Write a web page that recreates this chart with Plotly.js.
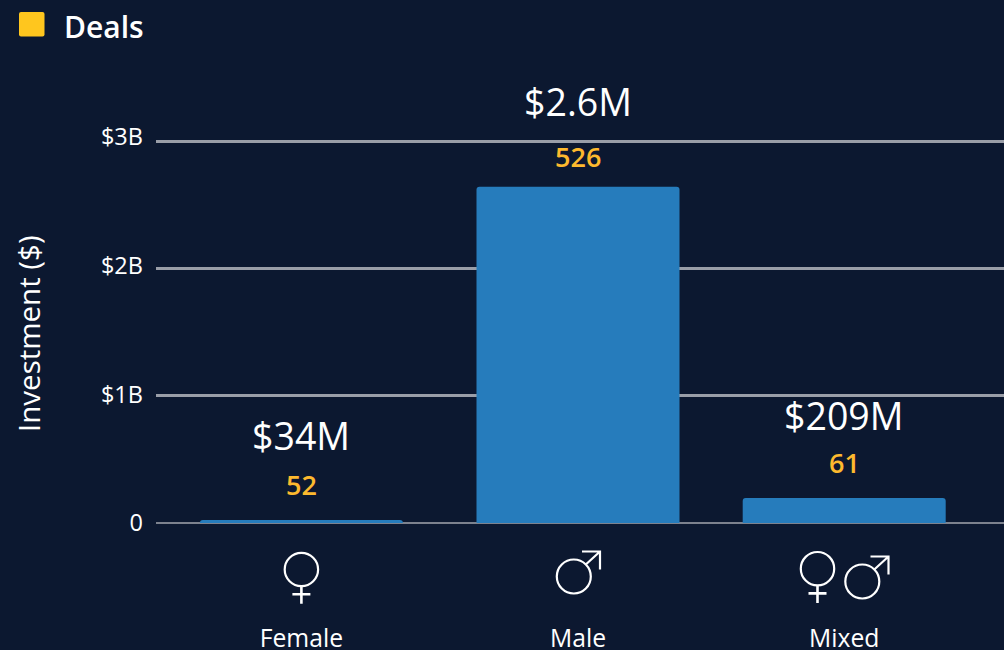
<!DOCTYPE html>
<html>
<head>
<meta charset="utf-8">
<script src="https://cdn.plot.ly/plotly-3.0.1.min.js"></script>
<style>html,body{margin:0;padding:0;background:#0C1830;overflow:hidden}</style>
</head>
<body>
<div id="chart" style="width:1004px;height:650px"></div>
<script>
const categories = ["Female", "Male", "Mixed"];
const investment = [24e6, 2.64e9, 0.196e9];
const investmentLabels = ["$34M", "$2.6M", "$209M"];
const deals = [52, 526, 61];
const legendName = "Deals";
const yAxisTitle = "Investment ($)";
const yTickValues = [0, 1e9, 2e9, 3e9];
const yTickLabels = ["0", "$1B", "$2B", "$3B"];

const categorySlots = [0, 276.6, 542.8];
const dealShift = [35.5, 30, 35.5];
const amountShift = [84, 85, 83];

const BG = "#0C1830", BAR = "#267CBC", GRID = "#9A9EA8", ZERO = "#7D828E", WHITE = "#FFFFFF", GOLD = "#FDB92E", FONT = "'Open Sans', sans-serif";

const anchored = (slot, extra) => Object.assign({
  xref: "x", yref: "paper", xsizemode: "pixel", ysizemode: "pixel",
  xanchor: categorySlots[slot], yanchor: 0, layer: "above"
}, extra);

function venus(slot, dx, cy) {
  const r = 16.7, stem = cy + r;
  return [
    anchored(slot, {type: "circle", x0: dx - r, x1: dx + r, y0: -cy - r, y1: -cy + r,
      line: {color: WHITE, width: 2.2}, fillcolor: "rgba(0,0,0,0)"}),
    anchored(slot, {type: "path", path: `M ${dx} ${-stem} L ${dx} ${-stem - 17.5} M ${dx - 9} ${-stem - 8} L ${dx + 9} ${-stem - 8}`,
      line: {color: WHITE, width: 2.6}})
  ];
}
function mars(slot, dx, cy) {
  const r = 17, tx = dx + 26.2, ty = -cy + 25;
  return [
    anchored(slot, {type: "circle", x0: dx - r, x1: dx + r, y0: -cy - r, y1: -cy + r,
      line: {color: WHITE, width: 2.2}, fillcolor: "rgba(0,0,0,0)"}),
    anchored(slot, {type: "path", path: `M ${dx + 12} ${-cy + 12} L ${tx} ${ty} M ${tx - 18} ${ty} L ${tx} ${ty} L ${tx} ${ty - 18}`,
      line: {color: WHITE, width: 2.2}})
  ];
}

const legendSwatch = {
  type: "path", xref: "paper", yref: "paper", xsizemode: "pixel", ysizemode: "pixel",
  xanchor: 0, yanchor: 1, layer: "above", fillcolor: "#FFC61E", line: {width: 0},
  path: "M -135 116 L -113.5 116 Q -111.5 116 -111.5 114 L -111.5 93.5 Q -111.5 91.5 -113.5 91.5 L -135 91.5 Q -137 91.5 -137 93.5 L -137 114 Q -137 116 -135 116 Z"
};

const annotations = [];
categories.forEach((c, i) => {
  annotations.push({x: categorySlots[i], y: investment[i], xref: "x", yref: "y", yshift: amountShift[i],
    text: investmentLabels[i], showarrow: false, font: {family: FONT, size: 37.5, color: WHITE}});
  annotations.push({x: categorySlots[i], y: investment[i], xref: "x", yref: "y", yshift: dealShift[i],
    text: String(deals[i]), showarrow: false, font: {family: FONT, size: 27, color: GOLD, weight: 600}});
});
annotations.push({xref: "paper", yref: "paper", x: -94 / 848, y: 1 + 101.5 / 395, xanchor: "left", yanchor: "middle",
  text: legendName, showarrow: false, font: {family: FONT, size: 30, color: WHITE, weight: 600}});
annotations.push({xref: "paper", yref: "paper", x: -128 / 848, y: 189 / 395, xanchor: "center", yanchor: "middle", textangle: -90,
  text: yAxisTitle, showarrow: false, font: {family: FONT, size: 29.5, color: WHITE}});

Plotly.newPlot("chart", [{
  type: "bar",
  x: categorySlots,
  y: investment,
  width: 203,
  marker: {color: BAR, cornerradius: 3, line: {width: 0}},
  hoverinfo: "skip",
  showlegend: false
}, {
  // carries the tick-label axis, whose labels sit slightly wider apart than the gridlines
  type: "scatter", mode: "none", x: categorySlots, y: yTickValues, yaxis: "y2",
  hoverinfo: "skip", showlegend: false
}], {
  width: 1004, height: 650,
  paper_bgcolor: BG, plot_bgcolor: BG,
  margin: {l: 156, r: 0, t: 128, b: 127, pad: 0},
  showlegend: false,
  xaxis: {
    range: [-145.4, 702.6], tickmode: "array", tickvals: categorySlots, ticktext: categories,
    showgrid: false, zeroline: false, showline: false, ticks: "",
    ticklabelstandoff: 98,
    tickfont: {family: FONT, size: 24.7, color: WHITE}
  },
  yaxis: {
    range: [0, 3e9 * 395 / 382], tickmode: "array", tickvals: yTickValues, showticklabels: false,
    showgrid: true, gridcolor: GRID, gridwidth: 3, zeroline: true, zerolinecolor: ZERO, zerolinewidth: 2,
    showline: false, ticks: ""
  },
  yaxis2: {
    overlaying: "y", side: "left", anchor: "x",
    range: [0, 3e9 * 395 / 386], tickmode: "array", tickvals: yTickValues, ticktext: yTickLabels,
    showgrid: false, zeroline: false, showline: false, ticks: "", ticklabelstandoff: 12,
    tickfont: {family: FONT, size: 23.5, color: WHITE}
  },
  annotations: annotations,
  shapes: [legendSwatch]
    .concat(venus(0, 0, 46.5))
    .concat(mars(1, -4.2, 53.5))
    .concat(venus(2, -26.7, 45.7))
    .concat(mars(2, 18.1, 58.5))
}, {displayModeBar: false, staticPlot: true});
</script>
</body>
</html>
